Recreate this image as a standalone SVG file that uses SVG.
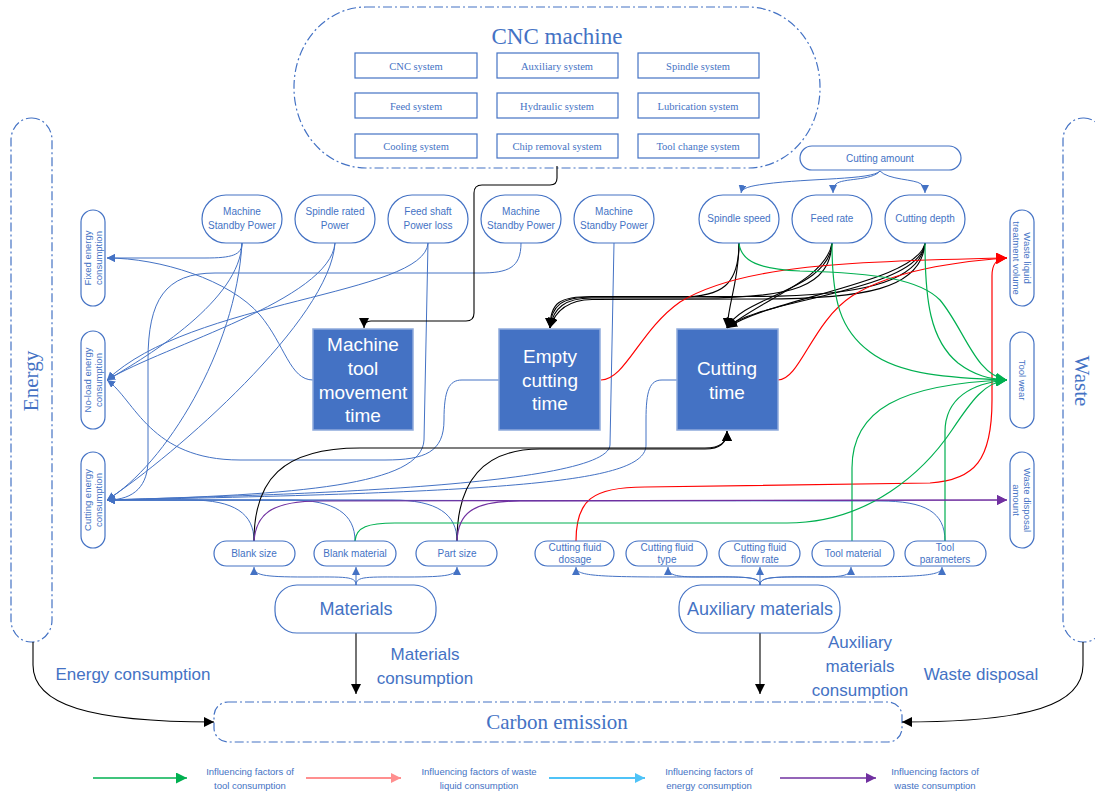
<svg xmlns="http://www.w3.org/2000/svg" width="1095" height="795" viewBox="0 0 1095 795">
<defs>
<style>
.dd{fill:none;stroke:#4472C4;stroke-width:1.2;stroke-dasharray:9 3 2 3}
.nd{fill:#fff;stroke:#4472C4;stroke-width:1.2}
.sys{fill:#fff;stroke:#4472C4;stroke-width:1.2}
.bx{fill:#4472C4;stroke:#8FAADC;stroke-width:1.5}
.t{font-family:"Liberation Sans",Arial,sans-serif;fill:#4472C4;text-anchor:middle}
.s{font-family:"Liberation Serif","Times New Roman",serif;fill:#4472C4;text-anchor:middle}
.w{font-family:"Liberation Sans",Arial,sans-serif;fill:#fff;text-anchor:middle;font-size:19px}
.lb{fill:none;stroke:#4472C4;stroke-width:1}
.lk{fill:none;stroke:#000;stroke-width:1.1}
.lg{fill:none;stroke:#00B050;stroke-width:1.2}
.lr{fill:none;stroke:#FF0000;stroke-width:1.2}
.lp{fill:none;stroke:#7030A0;stroke-width:1.2}
</style>
<marker id="mb" viewBox="0 0 10 10" refX="10" refY="5" markerWidth="8" markerHeight="8" markerUnits="userSpaceOnUse" orient="auto"><path d="M0,0 L10,5 L0,10 z" fill="#4472C4"/></marker>
<marker id="mk" viewBox="0 0 10 10" refX="10" refY="5" markerWidth="10" markerHeight="10" markerUnits="userSpaceOnUse" orient="auto"><path d="M0,0 L10,5 L0,10 z" fill="#000"/></marker>
<marker id="mg" viewBox="0 0 10 10" refX="10" refY="5" markerWidth="11" markerHeight="11" markerUnits="userSpaceOnUse" orient="auto"><path d="M0,0 L10,5 L0,10 z" fill="#00B050"/></marker>
<marker id="mr" viewBox="0 0 10 10" refX="10" refY="5" markerWidth="11" markerHeight="11" markerUnits="userSpaceOnUse" orient="auto"><path d="M0,0 L10,5 L0,10 z" fill="#FF0000"/></marker>
<marker id="mp" viewBox="0 0 10 10" refX="10" refY="5" markerWidth="10" markerHeight="10" markerUnits="userSpaceOnUse" orient="auto"><path d="M0,0 L10,5 L0,10 z" fill="#7030A0"/></marker>
<marker id="mpk" viewBox="0 0 10 10" refX="10" refY="5" markerWidth="10" markerHeight="10" markerUnits="userSpaceOnUse" orient="auto"><path d="M0,0 L10,5 L0,10 z" fill="#FF8F8F"/></marker>
<marker id="mlb" viewBox="0 0 10 10" refX="10" refY="5" markerWidth="10" markerHeight="10" markerUnits="userSpaceOnUse" orient="auto"><path d="M0,0 L10,5 L0,10 z" fill="#4FC3F7"/></marker>
</defs>
<rect width="1095" height="795" fill="#fff"/>

<!-- containers -->
<g id="cnc-machine">
<rect class="dd" x="294" y="7" width="526" height="161" rx="72" ry="80"/>
<text class="s" x="557" y="44" font-size="23">CNC machine</text>
<g font-size="10.5">
<rect class="sys" x="355" y="53" width="122" height="25"/><text class="s" x="416" y="69.5">CNC system</text>
<rect class="sys" x="497" y="53" width="121" height="25"/><text class="s" x="557" y="69.5">Auxiliary system</text>
<rect class="sys" x="638" y="53" width="121" height="25"/><text class="s" x="698" y="69.5">Spindle system</text>
<rect class="sys" x="355" y="93" width="122" height="25"/><text class="s" x="416" y="109.5">Feed system</text>
<rect class="sys" x="497" y="93" width="121" height="25"/><text class="s" x="557" y="109.5">Hydraulic system</text>
<rect class="sys" x="638" y="93" width="121" height="25"/><text class="s" x="698" y="109.5">Lubrication system</text>
<rect class="sys" x="355" y="134" width="122" height="24"/><text class="s" x="416" y="150">Cooling system</text>
<rect class="sys" x="497" y="134" width="121" height="24"/><text class="s" x="557" y="150">Chip removal system</text>
<rect class="sys" x="638" y="134" width="121" height="24"/><text class="s" x="698" y="150">Tool change system</text>
</g>
</g>

<g id="energy">
<rect class="dd" x="11" y="118" width="41" height="524" rx="20" ry="22"/>
<text class="s" font-size="21" transform="translate(38,381) rotate(-90)">Energy</text>
</g>
<g id="waste">
<rect class="dd" x="1063" y="118" width="41" height="524" rx="20" ry="22"/>
<text class="s" font-size="21" transform="translate(1075,381) rotate(90)">Waste</text>
</g>

<g id="carbon-emission">
<rect class="dd" x="214" y="702" width="688" height="40" rx="14" ry="14"/>
<text class="s" x="557" y="729" font-size="21">Carbon emission</text>
</g>

<!-- connectors -->
<g id="connectors">
<!-- blue energy -->
<path class="lb" marker-end="url(#mb)" d="M242,243 C242,255 232,258 205,258 L107,258"/>
<path class="lb" marker-end="url(#mb)" d="M242,243 C240,300 150,355 107,380"/>
<path class="lb" marker-end="url(#mb)" d="M242,243 C236,350 165,465 107,500"/>
<path class="lb" marker-end="url(#mb)" d="M335,243 C330,300 165,345 107,380"/>
<path class="lb" marker-end="url(#mb)" d="M335,243 C330,320 175,455 107,500"/>
<path class="lb" marker-end="url(#mb)" d="M428,243 C425,295 190,300 107,380"/>
<path class="lb" marker-end="url(#mb)" d="M428,243 L424,440 C422,485 300,495 107,500"/>
<path class="lb" marker-end="url(#mb)" d="M521,243 C521,268 508,273 480,273 L215,273 C165,273 148,300 148,360 L148,460 C148,485 135,500 107,500"/>
<path class="lb" marker-end="url(#mb)" d="M614,243 L610,445 C608,490 220,496 107,500"/>
<path class="lb" marker-end="url(#mb)" d="M313,380 C290,380 285,345 260,315 C230,280 160,258 107,258"/>
<path class="lb" marker-end="url(#mb)" d="M499,380 H462 C449,380 444,390 444,420 C444,452 425,460 385,460 L240,460 C150,460 135,400 107,380"/>
<path class="lb" marker-end="url(#mb)" d="M677,380 H662 C650,380 646,390 646,420 L646,445 C646,482 520,492 107,500"/>
<path class="lb" marker-end="url(#mb)" d="M254,541 C254,514 235,500 190,500 L107,500"/>
<path class="lb" marker-end="url(#mb)" d="M355,541 C355,514 335,500 290,500 L107,500"/>
<path class="lb" marker-end="url(#mb)" d="M457,541 C457,514 437,500 392,500 L107,500"/>
<path class="lb" marker-end="url(#mb)" d="M945,541 C945,512 925,501 880,501 L107,500"/>
<!-- cutting amount -->
<path class="lb" marker-end="url(#mb)" d="M880,171 C872,180 810,178 765,184 C750,186 742,188 741,193"/>
<path class="lb" marker-end="url(#mb)" d="M880,171 C872,181 842,178 836,184 C834,186 833,189 833,193"/>
<path class="lb" marker-end="url(#mb)" d="M880,171 C888,180 915,179 921,184 C924,186 925,189 925,193"/>
<!-- materials -->
<path class="lb" marker-end="url(#mb)" d="M356,585 L356,567"/>
<path class="lb" marker-end="url(#mb)" d="M356,585 C356,576 345,577 305,577 C262,577 254,575 254,567"/>
<path class="lb" marker-end="url(#mb)" d="M356,585 C356,576 367,577 407,577 C449,577 457,575 457,567"/>
<path class="lb" marker-end="url(#mb)" d="M760,585 L760,567"/>
<path class="lb" marker-end="url(#mb)" d="M760,585 C760,575 740,577 670,577 C590,577 576,575 576,567"/>
<path class="lb" marker-end="url(#mb)" d="M760,585 C760,576 745,577 700,577 C675,577 668,575 668,567"/>
<path class="lb" marker-end="url(#mb)" d="M760,585 C760,576 775,577 820,577 C845,577 851,575 851,567"/>
<path class="lb" marker-end="url(#mb)" d="M760,585 C760,575 780,577 850,577 C928,577 942,575 942,567"/>
<!-- black -->
<path class="lk" marker-end="url(#mk)" d="M557,166 V178 Q557,185 550,185 H482 Q474,185 474,193 V313 Q474,321 466,321 H371 Q364,321 364,328"/>
<path class="lk" marker-end="url(#mk)" d="M739,243 C739,285 722,297 680,297 L592,297 C562,297 551,305 550,328"/>
<path class="lk" marker-end="url(#mk)" d="M832,243 C830,287 792,298 700,298 L592,298 C565,298 553,308 550,328"/>
<path class="lk" marker-end="url(#mk)" d="M925,243 C922,290 862,299 760,299 L592,299.5 C568,300 555,311 550,328"/>
<path class="lk" marker-end="url(#mk)" d="M925,243 C920,285 850,296 760,296.5 L592,296.5 C560,296.5 550,302 550,328"/>
<path class="lk" marker-end="url(#mk)" d="M739,243 C739,280 729,300 727,328"/>
<path class="lk" marker-end="url(#mk)" d="M832,243 C830,290 742,296 727,328"/>
<path class="lk" marker-end="url(#mk)" d="M832,243 C826,280 760,300 727,328"/>
<path class="lk" marker-end="url(#mk)" d="M925,243 C920,292 752,300 727,328"/>
<path class="lk" marker-end="url(#mk)" d="M925,243 C918,282 770,298 727,328"/>
<path class="lk" marker-end="url(#mk)" d="M254,541 C254,480 282,448 360,448 L705,448 C721,448 727,442 727,431"/>
<path class="lk" marker-end="url(#mk)" d="M457,541 C457,490 476,449 540,449 L705,449 C721,449 727,442 727,431"/>
<!-- red -->
<path class="lr" marker-end="url(#mr)" d="M601,380 C625,380 640,330 680,302 C740,265 850,261 1007,258"/>
<path class="lr" marker-end="url(#mr)" d="M778,380 C800,380 812,322 852,296 C890,272 950,262 1007,258"/>
<path class="lr" marker-end="url(#mr)" d="M576,541 C576,500 592,487 645,487 L930,483 C975,480 992,460 992,400 L992,276 C992,263 997,258 1007,258"/>
<!-- green -->
<path class="lg" marker-end="url(#mg)" d="M739,243 C741,262 760,269 800,271 C880,273 920,280 940,300 C965,330 975,375 1007,380"/>
<path class="lg" marker-end="url(#mg)" d="M832,243 C832,300 840,330 870,352 C900,375 950,378 1007,380"/>
<path class="lg" marker-end="url(#mg)" d="M925,243 C925,300 930,340 958,363 C975,376 990,379 1007,380"/>
<path class="lg" marker-end="url(#mg)" d="M852,541 L852,468 C852,410 900,384 1007,380"/>
<path class="lg" marker-end="url(#mg)" d="M945,541 L945,432 C945,398 972,383 1007,380"/>
<path class="lg" marker-end="url(#mg)" d="M355,541 C356,527 368,523 395,523 L787,523 C870,523 925,470 952,430 C972,400 985,382 1007,380"/>
<!-- purple -->
<path class="lp" marker-end="url(#mp)" d="M254,541 C256,515 270,501 320,501 L1007,500"/>
<path class="lp" marker-end="url(#mp)" d="M457,541 C458,515 470,501 520,501 L1007,500"/>
<!-- bottom -->
<path class="lk" stroke-width="1" marker-end="url(#mk)" d="M356,633 L356,694"/>
<path class="lk" stroke-width="1" marker-end="url(#mk)" d="M760,633 L760,694"/>
<path class="lk" marker-end="url(#mk)" d="M33,642 L33,665 C33,705 90,722 214,722"/>
<path class="lk" marker-end="url(#mk)" d="M1083,642 L1083,665 C1083,705 1030,722 902,722"/>
</g>

<!-- energy nodes -->
<g id="fixed-energy">
<rect class="nd" x="81" y="210" width="24" height="96" rx="12"/>
<text class="t" font-size="9.5" transform="translate(93,258) rotate(-90)"><tspan x="0" y="-2">Fixed energy</tspan><tspan x="0" y="9">consumption</tspan></text>
</g>
<g id="noload-energy">
<rect class="nd" x="81" y="331" width="24" height="98" rx="12"/>
<text class="t" font-size="9.5" transform="translate(93,380) rotate(-90)"><tspan x="0" y="-2">No-load energy</tspan><tspan x="0" y="9">consumption</tspan></text>
</g>
<g id="cutting-energy">
<rect class="nd" x="81" y="452" width="24" height="96" rx="12"/>
<text class="t" font-size="9.5" transform="translate(93,500) rotate(-90)"><tspan x="0" y="-2">Cutting energy</tspan><tspan x="0" y="9">consumption</tspan></text>
</g>

<!-- waste nodes -->
<g id="waste-liquid">
<rect class="nd" x="1010" y="210" width="24" height="96" rx="12"/>
<text class="t" font-size="9.5" transform="translate(1022,258) rotate(90)"><tspan x="0" y="-2">Waste liquid</tspan><tspan x="0" y="9">treatment volume</tspan></text>
</g>
<g id="tool-wear">
<rect class="nd" x="1010" y="332" width="24" height="96" rx="12"/>
<text class="t" font-size="9.5" transform="translate(1022,380) rotate(90)"><tspan x="0" y="3.5">Tool wear</tspan></text>
</g>
<g id="waste-disposal-amount">
<rect class="nd" x="1010" y="452" width="24" height="96" rx="12"/>
<text class="t" font-size="9.5" transform="translate(1022,500) rotate(90)"><tspan x="0" y="-2">Waste disposal</tspan><tspan x="0" y="9">amount</tspan></text>
</g>

<!-- top nodes -->
<g id="msp1"><rect class="nd" x="202" y="195" width="80" height="48" rx="24"/><text class="t" font-size="10"><tspan x="242" y="215">Machine</tspan><tspan x="242" y="229">Standby Power</tspan></text></g>
<g id="srp"><rect class="nd" x="295" y="195" width="80" height="48" rx="24"/><text class="t" font-size="10"><tspan x="335" y="215">Spindle rated</tspan><tspan x="335" y="229">Power</tspan></text></g>
<g id="fspl"><rect class="nd" x="388" y="195" width="80" height="48" rx="24"/><text class="t" font-size="10"><tspan x="428" y="215">Feed shaft</tspan><tspan x="428" y="229">Power loss</tspan></text></g>
<g id="msp2"><rect class="nd" x="481" y="195" width="80" height="48" rx="24"/><text class="t" font-size="10"><tspan x="521" y="215">Machine</tspan><tspan x="521" y="229">Standby Power</tspan></text></g>
<g id="msp3"><rect class="nd" x="574" y="195" width="80" height="48" rx="24"/><text class="t" font-size="10"><tspan x="614" y="215">Machine</tspan><tspan x="614" y="229">Standby Power</tspan></text></g>
<g id="spindle-speed"><rect class="nd" x="699" y="195" width="80" height="48" rx="24"/><text class="t" font-size="10" x="739" y="222">Spindle speed</text></g>
<g id="feed-rate"><rect class="nd" x="792" y="195" width="80" height="48" rx="24"/><text class="t" font-size="10" x="832" y="222">Feed rate</text></g>
<g id="cutting-depth"><rect class="nd" x="885" y="195" width="80" height="48" rx="24"/><text class="t" font-size="10" x="925" y="222">Cutting depth</text></g>
<g id="cutting-amount"><rect class="nd" x="800" y="146" width="161" height="24" rx="12"/><text class="t" font-size="10" x="880" y="162">Cutting amount</text></g>

<!-- center boxes -->
<g id="machine-tool-movement-time"><rect class="bx" x="313" y="329" width="100" height="101"/><text class="w"><tspan x="363" y="351">Machine</tspan><tspan x="363" y="375">tool</tspan><tspan x="363" y="399">movement</tspan><tspan x="363" y="422">time</tspan></text></g>
<g id="empty-cutting-time"><rect class="bx" x="499" y="329" width="101" height="101"/><text class="w"><tspan x="550" y="363">Empty</tspan><tspan x="550" y="387">cutting</tspan><tspan x="550" y="410">time</tspan></text></g>
<g id="cutting-time"><rect class="bx" x="677" y="329" width="101" height="101"/><text class="w"><tspan x="727" y="375">Cutting</tspan><tspan x="727" y="399">time</tspan></text></g>

<!-- bottom nodes -->
<g id="blank-size"><rect class="nd" x="214" y="541" width="81" height="25" rx="12.5"/><text class="t" font-size="10" x="254" y="557">Blank size</text></g>
<g id="blank-material"><rect class="nd" x="314" y="541" width="82" height="25" rx="12.5"/><text class="t" font-size="10" x="355" y="557">Blank material</text></g>
<g id="part-size"><rect class="nd" x="416" y="541" width="81" height="25" rx="12.5"/><text class="t" font-size="10" x="457" y="557">Part size</text></g>
<g id="cutting-fluid-dosage"><rect class="nd" x="535" y="541" width="79" height="25" rx="12.5"/><text class="t" font-size="10"><tspan x="575" y="551">Cutting fluid</tspan><tspan x="575" y="563">dosage</tspan></text></g>
<g id="cutting-fluid-type"><rect class="nd" x="626" y="541" width="81" height="25" rx="12.5"/><text class="t" font-size="10"><tspan x="667" y="551">Cutting fluid</tspan><tspan x="667" y="563">type</tspan></text></g>
<g id="cutting-fluid-flow-rate"><rect class="nd" x="719" y="541" width="81" height="25" rx="12.5"/><text class="t" font-size="10"><tspan x="760" y="551">Cutting fluid</tspan><tspan x="760" y="563">flow rate</tspan></text></g>
<g id="tool-material"><rect class="nd" x="812" y="541" width="82" height="25" rx="12.5"/><text class="t" font-size="10" x="853" y="557">Tool material</text></g>
<g id="tool-parameters"><rect class="nd" x="905" y="541" width="81" height="25" rx="12.5"/><text class="t" font-size="10"><tspan x="945" y="551">Tool</tspan><tspan x="945" y="563">parameters</tspan></text></g>

<g id="materials"><rect class="nd" x="275" y="585" width="161" height="48" rx="22"/><text class="t" font-size="18" x="356" y="615">Materials</text></g>
<g id="auxiliary-materials"><rect class="nd" x="679" y="585" width="161" height="48" rx="22"/><text class="t" font-size="18" x="760" y="615">Auxiliary materials</text></g>

<!-- flow labels -->
<g id="labels" font-size="17">
<text class="t" x="133" y="680">Energy consumption</text>
<text class="t"><tspan x="425" y="660">Materials</tspan><tspan x="425" y="684">consumption</tspan></text>
<text class="t"><tspan x="860" y="648">Auxiliary</tspan><tspan x="860" y="672">materials</tspan><tspan x="860" y="696">consumption</tspan></text>
<text class="t" x="981" y="680">Waste disposal</text>
</g>

<!-- legend -->
<g id="legend">
<path d="M93,778 H187" stroke="#00B050" stroke-width="1.5" fill="none" marker-end="url(#mg)"/>
<text class="t" font-size="9.5"><tspan x="250" y="775">Influencing factors of</tspan><tspan x="250" y="789">tool consumption</tspan></text>
<path d="M306,778 H401" stroke="#FF8F8F" stroke-width="2" fill="none" marker-end="url(#mpk)"/>
<text class="t" font-size="9.5"><tspan x="479" y="775">Influencing factors of waste</tspan><tspan x="479" y="789">liquid consumption</tspan></text>
<path d="M549,778 H645" stroke="#4FC3F7" stroke-width="2" fill="none" marker-end="url(#mlb)"/>
<text class="t" font-size="9.5"><tspan x="709" y="775">Influencing factors of</tspan><tspan x="709" y="789">energy consumption</tspan></text>
<path d="M780,778 H876" stroke="#7030A0" stroke-width="1.5" fill="none" marker-end="url(#mp)"/>
<text class="t" font-size="9.5"><tspan x="935" y="775">Influencing factors of</tspan><tspan x="935" y="789">waste consumption</tspan></text>
</g>
</svg>
